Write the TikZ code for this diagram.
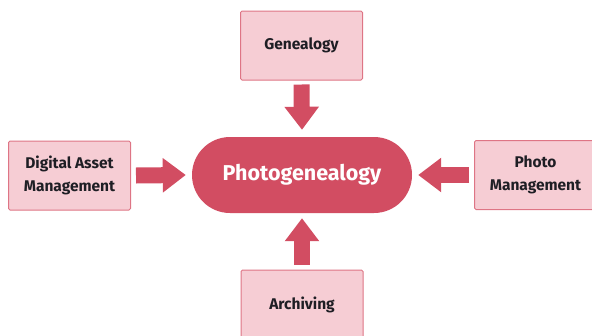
\documentclass[tikz,border=0pt]{standalone}
\usepackage{fontspec}
\setmainfont{Fira Sans}
\usetikzlibrary{arrows.meta}
\definecolor{pillc}{HTML}{D24D62}
\definecolor{boxfill}{HTML}{F6CDD4}
\definecolor{boxline}{HTML}{DE7585}
\definecolor{txt}{HTML}{1E1E24}
\tikzset{
  srcbox/.style={draw=boxline, fill=boxfill, line width=1pt, rounded corners=1.5pt,
    minimum width=122pt, minimum height=69pt, inner sep=0pt, align=center,
    font=\bfseries\fontsize{15.5}{23}\selectfont, text=txt},
  pill/.style={fill=pillc, rounded corners=38pt, minimum width=220pt, minimum height=76pt,
    inner sep=0pt, text=white, font=\bfseries\fontsize{21.5}{24}\selectfont},
  bigarrow/.style={draw=pillc, line width=16pt, -{Triangle[width=33pt,length=23pt]}}
}
\begin{document}
\begin{tikzpicture}[x=1pt,y=-1pt]
\useasboundingbox (0,0) rectangle (592,335);
\node[pill] (c) at (302,175) {Photogenealogy};
\node[srcbox] (g) at (301.5,45.5) {Genealogy};
\node[srcbox] (l) at (69.5,175.5) {Digital Asset\\Management};
\node[srcbox] (r) at (535.5,175) {Photo\\Management};
\node[srcbox] (a) at (302,304.5) {Archiving};
\draw[bigarrow] ([yshift=-4pt]g.south) -- ([yshift=7pt]c.north);
\draw[bigarrow] ([yshift=5pt]a.north) -- ([yshift=-5pt]c.south);
\draw[bigarrow] ([xshift=5pt]l.east) -- ([xshift=-6pt]c.west);
\draw[bigarrow] ([xshift=-5pt]r.west) -- ([xshift=6pt]c.east);
\end{tikzpicture}
\end{document}
